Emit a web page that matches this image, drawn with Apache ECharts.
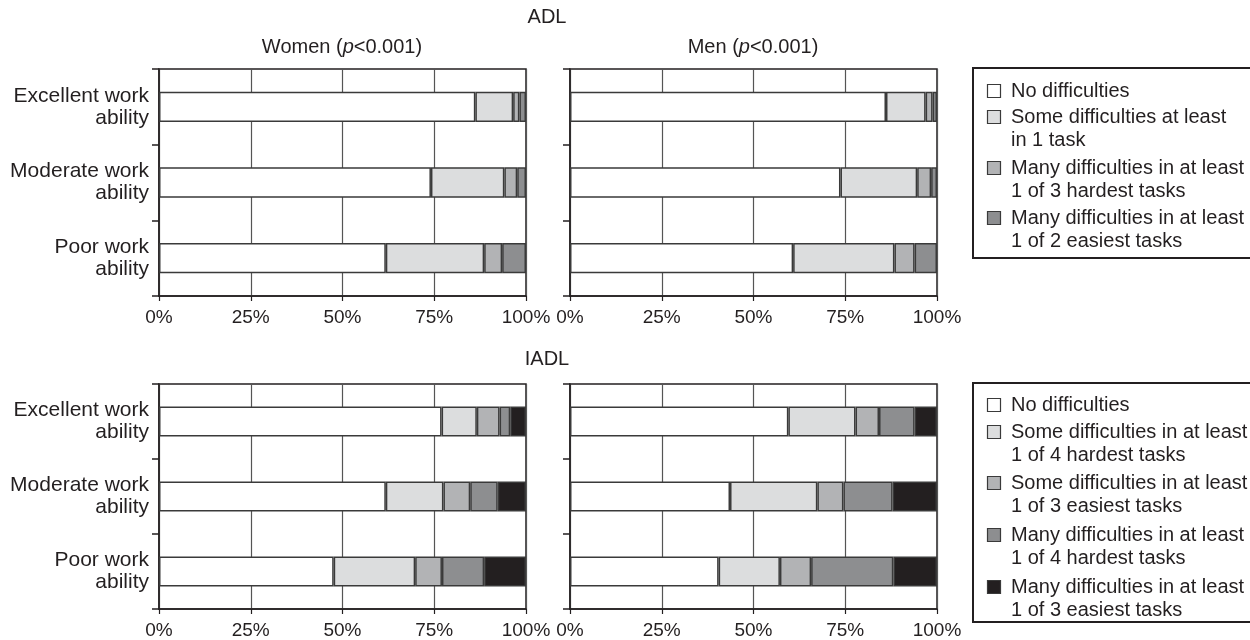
<!DOCTYPE html>
<html>
<head>
<meta charset="utf-8">
<script src="https://cdn.jsdelivr.net/npm/echarts@6/dist/echarts.min.js"></script>
<style>
html,body{margin:0;padding:0;background:#fff;}
#chart{width:1250px;height:640px;}
</style>
</head>
<body>
<div id="chart"></div>
<script>
// ---- data ----
const categories = ['Excellent work\nability', 'Moderate work\nability', 'Poor work\nability'];
const xTickValues = [0, 25, 50, 75, 100];

const adlNames = ['No difficulties', 'Some difficulties at least\nin 1 task', 'Many difficulties in at least\n1 of 3 hardest tasks', 'Many difficulties in at least\n1 of 2 easiest tasks'];
const iadlNames = ['No difficulties', 'Some difficulties in at least\n1 of 4 hardest tasks', 'Some difficulties in at least\n1 of 3 easiest tasks', 'Many difficulties in at least\n1 of 4 hardest tasks', 'Many difficulties in at least\n1 of 3 easiest tasks'];

// ADL women
const adlWomenNone = [86.2, 74.1, 61.8];
const adlWomenSome = [10.3, 20.0, 26.8];
const adlWomenManyHard = [1.7, 3.5, 4.9];
const adlWomenManyEasy = [1.8, 2.4, 6.5];
// ADL men
const adlMenNone = [86.1, 73.7, 60.8];
const adlMenSome = [10.8, 20.9, 27.6];
const adlMenManyHard = [1.9, 3.8, 5.5];
const adlMenManyEasy = [1.2, 1.6, 6.1];
// IADL women
const iadlWomenNone = [77.0, 61.8, 47.6];
const iadlWomenSomeHard = [9.6, 15.7, 22.2];
const iadlWomenSomeEasy = [6.2, 7.3, 7.3];
const iadlWomenManyHard = [2.9, 7.5, 11.5];
const iadlWomenManyEasy = [4.3, 7.7, 11.4];
// IADL men
const iadlMenNone = [59.5, 43.6, 40.5];
const iadlMenSomeHard = [18.3, 23.8, 16.7];
const iadlMenSomeEasy = [6.4, 7.1, 8.5];
const iadlMenManyHard = [9.7, 13.4, 22.4];
const iadlMenManyEasy = [6.1, 12.1, 11.9];

const panelTitles = ['Women ({i|p}<0.001)', 'Men ({i|p}<0.001)'];
const sectionTitles = ['ADL', 'IADL'];

// ---- styles ----
const colors = ['#ffffff', '#dcddde', '#b2b3b5', '#8d8e90', '#231f20'];
const adlColors = ['#ffffff', '#dcddde', '#b2b3b5', '#8d8e90'];
const ink = '#231f20';
const FONT = '"Liberation Sans", Arial, Helvetica, sans-serif';

const panels = [
  {grid: {left: 159, top: 69, width: 367, height: 227}, labels: true, sets: [adlWomenNone, adlWomenSome, adlWomenManyHard, adlWomenManyEasy], cols: adlColors, names: adlNames},
  {grid: {left: 570, top: 69, width: 367, height: 227}, labels: false, sets: [adlMenNone, adlMenSome, adlMenManyHard, adlMenManyEasy], cols: adlColors, names: adlNames},
  {grid: {left: 159, top: 384, width: 367, height: 227}, labels: true, sets: [iadlWomenNone, iadlWomenSomeHard, iadlWomenSomeEasy, iadlWomenManyHard, iadlWomenManyEasy], cols: colors, names: iadlNames},
  {grid: {left: 570, top: 384, width: 367, height: 227}, labels: false, sets: [iadlMenNone, iadlMenSomeHard, iadlMenSomeEasy, iadlMenManyHard, iadlMenManyEasy], cols: colors, names: iadlNames}
];

const grids = [], xAxes = [], yAxes = [], series = [];
panels.forEach((p, i) => {
  grids.push(Object.assign({show: true, borderColor: ink, borderWidth: 1.5, backgroundColor: 'transparent', containLabel: false}, p.grid));
  xAxes.push({
    type: 'value', gridIndex: i, min: 0, max: 100, interval: 25,
    axisLine: {show: true, lineStyle: {color: ink, width: 1.5}},
    axisTick: {show: true, length: 5, lineStyle: {color: ink, width: 1.2}},
    axisLabel: {show: true, formatter: v => xTickValues.includes(v) ? v + '%' : '', fontSize: 19, fontFamily: FONT, color: ink, margin: 12, showMinLabel: true, showMaxLabel: true, hideOverlap: false},
    splitLine: {show: true, lineStyle: {color: '#555', width: 1.2}}
  });
  yAxes.push({
    type: 'category', gridIndex: i, data: categories, inverse: true,
    axisLine: {show: true, lineStyle: {color: ink, width: 1.5}},
    axisTick: {show: true, length: 7, inside: false, lineStyle: {color: ink, width: 1.5}},
    axisLabel: {show: p.labels, fontSize: 21, fontFamily: FONT, color: ink, margin: 10, lineHeight: 22, align: 'right'},
    splitLine: {show: false}
  });
  p.sets.forEach((d, k) => {
    series.push({
      type: 'bar', name: p.names[k], xAxisIndex: i, yAxisIndex: i, stack: 'panel' + i,
      data: d, barWidth: '40%',
      itemStyle: {color: p.cols[k], borderColor: '#3a3a3a', borderWidth: 1.5},
      emphasis: {disabled: true}
    });
  });
});

// ---- titles & legends as graphics ----
const graphic = [];
function title(text, x, y) {
  graphic.push({
    type: 'text', x: x, y: y,
    style: {
      text: text, fill: ink, font: '20px ' + FONT, align: 'center', verticalAlign: 'middle',
      rich: {i: {fontStyle: 'italic', fontSize: 20, fontFamily: FONT, fill: ink}}
    }
  });
}
title(sectionTitles[0], 547, 17);
title(panelTitles[0], 342, 47);
title(panelTitles[1], 753, 47);
title(sectionTitles[1], 547, 359);

function legend(names, cols, boxTop, boxBottom, centers) {
  graphic.push({
    type: 'rect', shape: {x: 973, y: boxTop, width: 300, height: boxBottom - boxTop},
    style: {fill: 'none', stroke: ink, lineWidth: 2}
  });
  names.forEach((n, k) => {
    graphic.push({
      type: 'rect', shape: {x: 987.5, y: centers[k] - 6.5, width: 13, height: 13},
      style: {fill: cols[k], stroke: '#3a3a3a', lineWidth: 1.2}
    });
    graphic.push({
      type: 'text', x: 1011, y: centers[k] - 11.5,
      style: {text: n, fill: ink, font: '20px ' + FONT, lineHeight: 23, align: 'left', verticalAlign: 'top'}
    });
  });
}
legend(adlNames, adlColors, 68, 258, [91, 117, 168, 218]);
legend(iadlNames, colors, 383, 622, [405, 432, 483, 535, 587]);

const chart = echarts.init(document.getElementById('chart'), null, {renderer: 'canvas'});
chart.setOption({
  animation: false,
  backgroundColor: '#ffffff',
  grid: grids,
  xAxis: xAxes,
  yAxis: yAxes,
  series: series,
  graphic: graphic
});
</script>
</body>
</html>
